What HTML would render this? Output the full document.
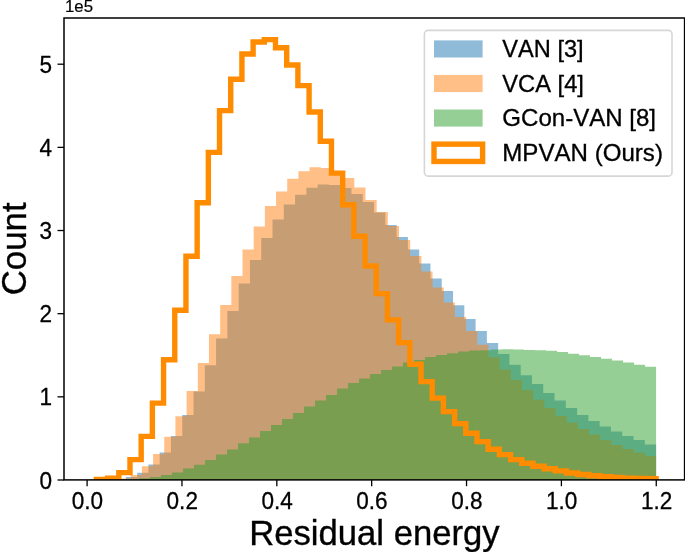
<!DOCTYPE html><html><head><meta charset="utf-8"><title>Residual energy histogram</title>
<style>html,body{margin:0;padding:0;background:#fff;}svg{display:block;will-change:transform;}text{font-family:"Liberation Sans", Arial, sans-serif;fill:#000;font-kerning:none;}</style></head><body>
<svg width="685" height="552" viewBox="0 0 685 552">
<rect x="0" y="0" width="685" height="552" fill="#fff"/>
<defs><clipPath id="ax"><rect x="64.00" y="18.00" width="620.60" height="461.90"/></clipPath></defs>
<g clip-path="url(#ax)">
<path d="M92.00 480.00 L92.00 479.90 L103.28 479.90 L103.28 479.70 L114.56 479.70 L114.56 479.00 L125.85 479.00 L125.85 477.00 L137.13 477.00 L137.13 472.70 L148.41 472.70 L148.41 464.50 L159.69 464.50 L159.69 452.50 L170.97 452.50 L170.97 436.00 L182.26 436.00 L182.26 415.10 L193.54 415.10 L193.54 391.50 L204.82 391.50 L204.82 365.20 L216.10 365.20 L216.10 338.40 L227.38 338.40 L227.38 311.00 L238.67 311.00 L238.67 283.60 L249.95 283.60 L249.95 260.00 L261.23 260.00 L261.23 238.00 L272.51 238.00 L272.51 219.60 L283.79 219.60 L283.79 204.50 L295.08 204.50 L295.08 194.70 L306.36 194.70 L306.36 187.80 L317.64 187.80 L317.64 184.40 L328.92 184.40 L328.92 185.00 L340.20 185.00 L340.20 188.00 L351.49 188.00 L351.49 194.00 L362.77 194.00 L362.77 202.00 L374.05 202.00 L374.05 212.40 L385.33 212.40 L385.33 225.00 L396.61 225.00 L396.61 237.00 L407.90 237.00 L407.90 249.40 L419.18 249.40 L419.18 263.60 L430.46 263.60 L430.46 278.60 L441.74 278.60 L441.74 291.00 L453.02 291.00 L453.02 305.20 L464.31 305.20 L464.31 319.00 L475.59 319.00 L475.59 331.00 L486.87 331.00 L486.87 343.00 L498.15 343.00 L498.15 354.00 L509.43 354.00 L509.43 364.70 L520.72 364.70 L520.72 375.30 L532.00 375.30 L532.00 384.00 L543.28 384.00 L543.28 393.00 L554.56 393.00 L554.56 400.50 L565.84 400.50 L565.84 408.00 L577.13 408.00 L577.13 415.00 L588.41 415.00 L588.41 421.00 L599.69 421.00 L599.69 426.60 L610.97 426.60 L610.97 431.40 L622.25 431.40 L622.25 436.00 L633.54 436.00 L633.54 440.00 L644.82 440.00 L644.82 444.40 L656.10 444.40 L656.10 480.00 Z" fill="#1f77b4" fill-opacity="0.5"/>
<path d="M97.20 480.00 L97.20 479.90 L108.38 479.90 L108.38 479.60 L119.56 479.60 L119.56 478.50 L130.73 478.50 L130.73 475.00 L141.91 475.00 L141.91 466.30 L153.09 466.30 L153.09 454.00 L164.27 454.00 L164.27 436.70 L175.45 436.70 L175.45 416.20 L186.62 416.20 L186.62 391.00 L197.80 391.00 L197.80 363.00 L208.98 363.00 L208.98 334.20 L220.16 334.20 L220.16 305.00 L231.34 305.00 L231.34 276.00 L242.51 276.00 L242.51 249.40 L253.69 249.40 L253.69 226.40 L264.87 226.40 L264.87 206.00 L276.05 206.00 L276.05 191.40 L287.23 191.40 L287.23 178.80 L298.40 178.80 L298.40 171.20 L309.58 171.20 L309.58 167.30 L320.76 167.30 L320.76 168.00 L331.94 168.00 L331.94 171.50 L343.12 171.50 L343.12 178.00 L354.29 178.00 L354.29 187.60 L365.47 187.60 L365.47 200.00 L376.65 200.00 L376.65 212.00 L387.83 212.00 L387.83 226.00 L399.01 226.00 L399.01 240.00 L410.18 240.00 L410.18 256.00 L421.36 256.00 L421.36 271.60 L432.54 271.60 L432.54 287.40 L443.72 287.40 L443.72 302.40 L454.90 302.40 L454.90 317.00 L466.07 317.00 L466.07 331.00 L477.25 331.00 L477.25 344.70 L488.43 344.70 L488.43 357.30 L499.61 357.30 L499.61 369.40 L510.79 369.40 L510.79 380.00 L521.96 380.00 L521.96 390.00 L533.14 390.00 L533.14 399.80 L544.32 399.80 L544.32 408.00 L555.50 408.00 L555.50 416.00 L566.68 416.00 L566.68 422.70 L577.85 422.70 L577.85 429.00 L589.03 429.00 L589.03 434.60 L600.21 434.60 L600.21 440.00 L611.39 440.00 L611.39 445.00 L622.57 445.00 L622.57 449.00 L633.74 449.00 L633.74 452.40 L644.92 452.40 L644.92 456.00 L656.10 456.00 L656.10 480.00 Z" fill="#ff7f0e" fill-opacity="0.5"/>
<path d="M106.00 480.00 L106.00 479.90 L117.00 479.90 L117.00 479.70 L128.00 479.70 L128.00 479.20 L139.01 479.20 L139.01 478.20 L150.01 478.20 L150.01 476.90 L161.01 476.90 L161.01 475.00 L172.01 475.00 L172.01 472.40 L183.01 472.40 L183.01 468.60 L194.02 468.60 L194.02 464.80 L205.02 464.80 L205.02 460.00 L216.02 460.00 L216.02 454.40 L227.02 454.40 L227.02 449.60 L238.02 449.60 L238.02 443.20 L249.03 443.20 L249.03 437.40 L260.03 437.40 L260.03 431.00 L271.03 431.00 L271.03 425.00 L282.03 425.00 L282.03 419.00 L293.03 419.00 L293.03 413.00 L304.04 413.00 L304.04 406.40 L315.04 406.40 L315.04 400.60 L326.04 400.60 L326.04 395.00 L337.04 395.00 L337.04 388.40 L348.04 388.40 L348.04 383.00 L359.05 383.00 L359.05 378.60 L370.05 378.60 L370.05 374.00 L381.05 374.00 L381.05 370.00 L392.05 370.00 L392.05 366.60 L403.05 366.60 L403.05 362.40 L414.06 362.40 L414.06 360.00 L425.06 360.00 L425.06 357.00 L436.06 357.00 L436.06 355.00 L447.06 355.00 L447.06 353.20 L458.06 353.20 L458.06 351.60 L469.07 351.60 L469.07 350.60 L480.07 350.60 L480.07 350.20 L491.07 350.20 L491.07 349.50 L502.07 349.50 L502.07 349.30 L513.07 349.30 L513.07 349.60 L524.08 349.60 L524.08 350.00 L535.08 350.00 L535.08 350.30 L546.08 350.30 L546.08 350.80 L557.08 350.80 L557.08 352.00 L568.08 352.00 L568.08 353.70 L579.09 353.70 L579.09 355.30 L590.09 355.30 L590.09 357.00 L601.09 357.00 L601.09 358.80 L612.09 358.80 L612.09 360.60 L623.09 360.60 L623.09 362.60 L634.10 362.60 L634.10 364.80 L645.10 364.80 L645.10 366.80 L656.10 366.80 L656.10 480.00 Z" fill="#2ca02c" fill-opacity="0.5"/>
<path d="M96.40 480.00 L96.40 479.50 L107.59 479.50 L107.59 478.30 L118.79 478.30 L118.79 472.60 L129.98 472.60 L129.98 459.60 L141.18 459.60 L141.18 436.40 L152.37 436.40 L152.37 403.10 L163.56 403.10 L163.56 359.80 L174.76 359.80 L174.76 310.20 L185.95 310.20 L185.95 256.30 L197.15 256.30 L197.15 202.70 L208.34 202.70 L208.34 152.40 L219.53 152.40 L219.53 110.60 L230.73 110.60 L230.73 79.20 L241.92 79.20 L241.92 54.00 L253.12 54.00 L253.12 42.00 L264.31 42.00 L264.31 39.60 L275.50 39.60 L275.50 47.70 L286.70 47.70 L286.70 65.00 L297.89 65.00 L297.89 85.60 L309.09 85.60 L309.09 112.00 L320.28 112.00 L320.28 141.30 L331.47 141.30 L331.47 173.10 L342.67 173.10 L342.67 204.70 L353.86 204.70 L353.86 236.30 L365.06 236.30 L365.06 266.00 L376.25 266.00 L376.25 293.60 L387.44 293.60 L387.44 319.90 L398.64 319.90 L398.64 342.60 L409.83 342.60 L409.83 364.20 L421.03 364.20 L421.03 381.60 L432.22 381.60 L432.22 398.10 L443.41 398.10 L443.41 411.60 L454.61 411.60 L454.61 423.60 L465.80 423.60 L465.80 433.20 L477.00 433.20 L477.00 441.60 L488.19 441.60 L488.19 449.20 L499.38 449.20 L499.38 454.60 L510.58 454.60 L510.58 459.60 L521.77 459.60 L521.77 463.20 L532.97 463.20 L532.97 466.20 L544.16 466.20 L544.16 468.80 L555.35 468.80 L555.35 470.90 L566.55 470.90 L566.55 473.00 L577.74 473.00 L577.74 474.50 L588.94 474.50 L588.94 475.70 L600.13 475.70 L600.13 476.70 L611.32 476.70 L611.32 477.50 L622.52 477.50 L622.52 478.10 L633.71 478.10 L633.71 478.50 L644.91 478.50 L644.91 478.80 L656.10 478.80 L656.10 480.00" fill="none" stroke="#ff8c00" stroke-width="5.40" stroke-linejoin="miter" stroke-linecap="butt"/>
</g>
<rect x="64.00" y="18.00" width="620.60" height="461.90" fill="none" stroke="#000" stroke-width="1.50"/>
<line x1="87.10" y1="479.90" x2="87.10" y2="486.20" stroke="#000" stroke-width="1.3"/>
<text transform="translate(87.40 509.10) scale(0.9400 1)" font-size="24.00" text-anchor="middle" stroke="#000" stroke-width="0.30">0.0</text>
<line x1="181.96" y1="479.90" x2="181.96" y2="486.20" stroke="#000" stroke-width="1.3"/>
<text transform="translate(182.26 509.10) scale(0.9400 1)" font-size="24.00" text-anchor="middle" stroke="#000" stroke-width="0.30">0.2</text>
<line x1="276.82" y1="479.90" x2="276.82" y2="486.20" stroke="#000" stroke-width="1.3"/>
<text transform="translate(277.12 509.10) scale(0.9400 1)" font-size="24.00" text-anchor="middle" stroke="#000" stroke-width="0.30">0.4</text>
<line x1="371.68" y1="479.90" x2="371.68" y2="486.20" stroke="#000" stroke-width="1.3"/>
<text transform="translate(371.98 509.10) scale(0.9400 1)" font-size="24.00" text-anchor="middle" stroke="#000" stroke-width="0.30">0.6</text>
<line x1="466.54" y1="479.90" x2="466.54" y2="486.20" stroke="#000" stroke-width="1.3"/>
<text transform="translate(466.84 509.10) scale(0.9400 1)" font-size="24.00" text-anchor="middle" stroke="#000" stroke-width="0.30">0.8</text>
<line x1="561.40" y1="479.90" x2="561.40" y2="486.20" stroke="#000" stroke-width="1.3"/>
<text transform="translate(561.70 509.10) scale(0.9400 1)" font-size="24.00" text-anchor="middle" stroke="#000" stroke-width="0.30">1.0</text>
<line x1="656.26" y1="479.90" x2="656.26" y2="486.20" stroke="#000" stroke-width="1.3"/>
<text transform="translate(656.56 509.10) scale(0.9400 1)" font-size="24.00" text-anchor="middle" stroke="#000" stroke-width="0.30">1.2</text>
<line x1="64.00" y1="480.00" x2="57.50" y2="480.00" stroke="#000" stroke-width="1.3"/>
<text transform="translate(52.00 488.50) scale(0.9400 1)" font-size="24.00" text-anchor="end" stroke="#000" stroke-width="0.30">0</text>
<line x1="64.00" y1="396.84" x2="57.50" y2="396.84" stroke="#000" stroke-width="1.3"/>
<text transform="translate(52.00 405.34) scale(0.9400 1)" font-size="24.00" text-anchor="end" stroke="#000" stroke-width="0.30">1</text>
<line x1="64.00" y1="313.68" x2="57.50" y2="313.68" stroke="#000" stroke-width="1.3"/>
<text transform="translate(52.00 322.18) scale(0.9400 1)" font-size="24.00" text-anchor="end" stroke="#000" stroke-width="0.30">2</text>
<line x1="64.00" y1="230.52" x2="57.50" y2="230.52" stroke="#000" stroke-width="1.3"/>
<text transform="translate(52.00 239.02) scale(0.9400 1)" font-size="24.00" text-anchor="end" stroke="#000" stroke-width="0.30">3</text>
<line x1="64.00" y1="147.36" x2="57.50" y2="147.36" stroke="#000" stroke-width="1.3"/>
<text transform="translate(52.00 155.86) scale(0.9400 1)" font-size="24.00" text-anchor="end" stroke="#000" stroke-width="0.30">4</text>
<line x1="64.00" y1="64.20" x2="57.50" y2="64.20" stroke="#000" stroke-width="1.3"/>
<text transform="translate(52.00 72.70) scale(0.9400 1)" font-size="24.00" text-anchor="end" stroke="#000" stroke-width="0.30">5</text>
<text transform="translate(65.00 12.30)" font-size="16.80" stroke="#000" stroke-width="0.20">1e5</text>
<text transform="translate(374.40 544.50) scale(0.9900 1)" font-size="35.00" text-anchor="middle" stroke="#000" stroke-width="0.35">Residual energy</text>
<text transform="translate(26.30 248.90) rotate(-90) scale(0.9950 1)" font-size="35.00" text-anchor="middle" stroke="#000" stroke-width="0.35">Count</text>
<rect x="424.4" y="30.4" width="247.6" height="145.7" rx="3.6" ry="3.6" fill="#fff" fill-opacity="0.8" stroke="#cccccc" stroke-opacity="0.8" stroke-width="1.6"/>
<rect x="434" y="40.40" width="48.6" height="17.10" fill="#1f77b4" fill-opacity="0.5"/>
<text transform="translate(502.30 57.00) scale(1.0180 1)" font-size="23.20" stroke="#000" stroke-width="0.30">VAN [3]</text>
<rect x="434" y="74.95" width="48.6" height="17.10" fill="#ff7f0e" fill-opacity="0.5"/>
<text transform="translate(502.30 91.55) scale(1.0220 1)" font-size="23.20" stroke="#000" stroke-width="0.30">VCA [4]</text>
<rect x="434" y="109.50" width="48.6" height="17.10" fill="#2ca02c" fill-opacity="0.5"/>
<text transform="translate(502.30 126.10) scale(1.0370 1)" font-size="23.20" stroke="#000" stroke-width="0.30">GCon-VAN [8]</text>
<rect x="434" y="144.15" width="48.6" height="17.30" fill="none" stroke="#ff8c00" stroke-width="5.40"/>
<text transform="translate(502.30 160.65) scale(1.0390 1)" font-size="23.20" stroke="#000" stroke-width="0.30">MPVAN (Ours)</text>
</svg></body></html>
